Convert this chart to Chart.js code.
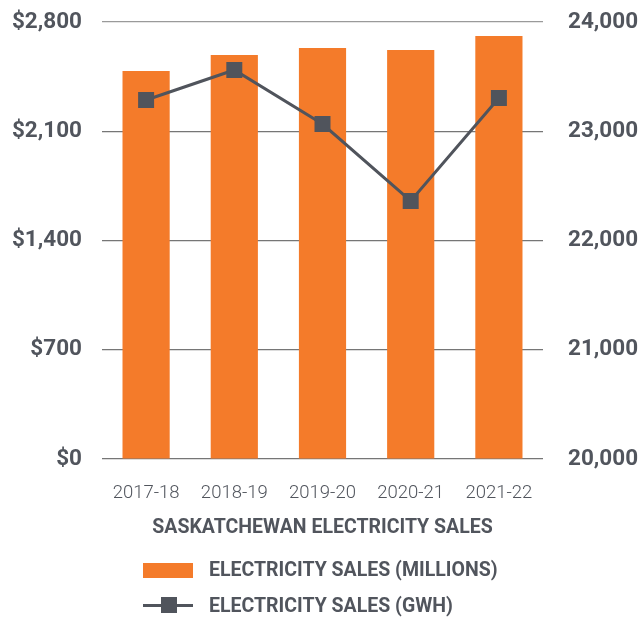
<!DOCTYPE html>
<html>
<head>
<meta charset="utf-8">
<script src="https://cdn.jsdelivr.net/npm/chart.js@4"></script>
<style>
  html, body { margin: 0; padding: 0; background: #fff; }
  #wrap { position: relative; width: 643px; height: 618px; }
  #chart { position: absolute; left: 0; top: 0; }
  .txt { position: absolute; font-family: Roboto, sans-serif; font-weight: 700; font-size: 19.5px; color: #51555d; line-height: 20px; white-space: nowrap; }
  #title { left: 0; width: 645px; text-align: center; top: 517px; }
  .swatch { position: absolute; left: 143px; top: 563px; width: 50px; height: 15px; background: #f47b2a; }
  .lineKey { position: absolute; left: 143px; top: 604px; width: 50px; height: 3px; background: #50545c; }
  .markKey { position: absolute; left: 161px; top: 597px; width: 16px; height: 16px; background: #50545c; }
</style>
</head>
<body>
<div id="wrap">
  <canvas id="chart" width="643" height="618"></canvas>
  <div class="txt" id="title">SASKATCHEWAN ELECTRICITY SALES</div>
  <div class="swatch"></div>
  <div class="txt" style="left:209px; top:560px;">ELECTRICITY SALES (MILLIONS)</div>
  <div class="lineKey"></div>
  <div class="markKey"></div>
  <div class="txt" style="left:209px; top:596px;">ELECTRICITY SALES (GWH)</div>
</div>
<script>
const years = ['2017-18', '2018-19', '2019-20', '2020-21', '2021-22']
const salesMillions = [2486, 2589, 2633, 2621, 2710]
const salesGwh = [23286, 23561, 23066, 22362, 23304]
const dollarTicks = [0, 700, 1400, 2100, 2800]
const gwhTicks = [20000, 21000, 22000, 23000, 24000]

const textColor = '#51555d'
const orange = '#f47b2a'
const slate = '#50545c'

// y axes: fixed width, no extra top/bottom padding so the plot spans 22..459
const fitY = (w) => (scale) => {
  scale.width = w
  scale.paddingTop = 0
  scale.paddingBottom = 0
}

const ctx = document.getElementById('chart')
new Chart(ctx, {
  data: {
    labels: years,
    datasets: [{
      type: 'line',
      label: 'ELECTRICITY SALES (GWH)',
      data: salesGwh,
      yAxisID: 'yRight',
      borderColor: slate,
      borderWidth: 3,
      pointStyle: 'rect',
      pointRadius: 11.3,
      pointBackgroundColor: slate,
      pointBorderWidth: 0,
      order: 1
    }, {
      type: 'bar',
      label: 'ELECTRICITY SALES (MILLIONS)',
      data: salesMillions,
      yAxisID: 'yLeft',
      backgroundColor: orange,
      categoryPercentage: 1,
      barPercentage: 0.535,
      order: 2
    }]
  },
  options: {
    responsive: false,
    animation: false,
    layout: { autoPadding: false, padding: { top: 22, bottom: 0, left: 0, right: 0 } },
    plugins: {
      legend: { display: false },
      tooltip: { enabled: false }
    },
    scales: {
      x: {
        position: 'bottom',
        grid: { display: false, drawTicks: false },
        border: { display: false },
        ticks: {
          color: textColor,
          padding: 23,
          font: { family: 'Roboto', weight: 300, size: 18.5 }
        },
        afterFit: (scale) => { scale.height = 159 }
      },
      yLeft: {
        position: 'left',
        min: dollarTicks[0],
        max: dollarTicks[dollarTicks.length - 1],
        afterBuildTicks: (scale) => { scale.ticks = dollarTicks.map(v => ({ value: v })) },
        grid: {
          drawTicks: false,
          color: (c) => c.tick && c.tick.value === 2800 ? '#9a9a9a' : '#767676',
          lineWidth: 1.2
        },
        border: { display: false },
        ticks: {
          color: textColor,
          padding: 20,
          font: { family: 'Roboto', weight: 700, size: 22.5 },
          callback: (v) => '$' + v.toLocaleString('en-US')
        },
        afterFit: fitY(102)
      },
      yRight: {
        position: 'right',
        min: gwhTicks[0],
        max: gwhTicks[gwhTicks.length - 1],
        afterBuildTicks: (scale) => { scale.ticks = gwhTicks.map(v => ({ value: v })) },
        grid: { display: false, drawTicks: false },
        border: { display: false },
        ticks: {
          color: textColor,
          padding: 25,
          font: { family: 'Roboto', weight: 700, size: 22.5 },
          callback: (v) => v.toLocaleString('en-US')
        },
        afterFit: fitY(100)
      }
    }
  }
})
</script>
</body>
</html>
